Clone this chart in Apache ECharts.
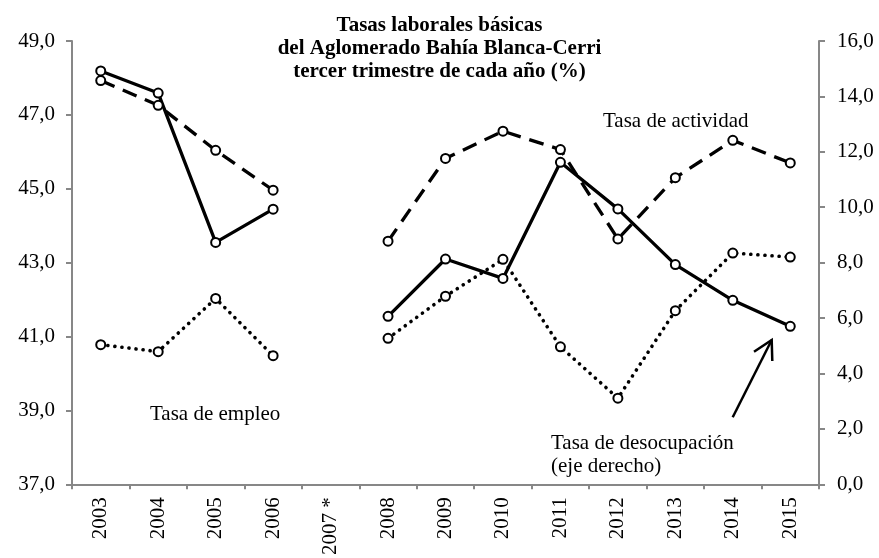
<!DOCTYPE html>
<html>
<head>
<meta charset="utf-8">
<script src="https://cdn.jsdelivr.net/npm/echarts@6/dist/echarts.min.js"></script>
<style>html,body{margin:0;padding:0;background:#fff}#c{width:879px;height:558px}</style>
</head>
<body>
<div id="c"></div>
<script>
var categories = ['2003','2004','2005','2006','2007 *','2008','2009','2010','2011','2012','2013','2014','2015'];
var actividad = [47.93, 47.26, 46.04, 44.96, null, 43.58, 45.82, 46.56, 46.06, 43.64, 45.30, 46.31, 45.70];
var empleo = [40.78, 40.59, 42.03, 40.48, null, 40.95, 42.09, 43.09, 40.72, 39.33, 41.70, 43.26, 43.15];
var desocupacion = [14.92, 14.12, 8.73, 9.93, null, 6.06, 8.13, 7.43, 11.62, 9.94, 7.93, 6.64, 5.70];
var titleLines = ['Tasas laborales básicas', 'del Aglomerado Bahía Blanca-Cerri', 'tercer trimestre de cada año (%)'];

var FONT = 'Liberation Serif';
var FS = 21;
var axisColor = '#878787';
function fmt(v){ return v.toFixed(1).replace('.', ','); }

var chart = echarts.init(document.getElementById('c'), null, {renderer:'canvas'});
function lineSeries(name, data, yIdx, type, width, cap){
  return {
    name: name, type: 'line', data: data, yAxisIndex: yIdx,
    connectNulls: false, showAllSymbol: true,
    symbol: 'circle', symbolSize: 9,
    itemStyle: {color: '#fff', borderColor: '#000', borderWidth: 2},
    lineStyle: {color: '#000', width: width, type: type, cap: cap},
    emphasis: {disabled: true}, animation: false, z: 3
  };
}
var option = {
  animation: false,
  backgroundColor: '#fff',
  title: {
    text: titleLines.join('\n'),
    left: 'center', top: 9,
    textStyle: {fontFamily: FONT, fontSize: FS, fontWeight: 'bold', color: '#000', lineHeight: 23}
  },
  grid: {left: 72, right: 60, top: 41, bottom: 67, containLabel: false},
  xAxis: {
    type: 'category', data: categories, boundaryGap: true,
    axisLine: {lineStyle: {color: axisColor, width: 2}},
    axisTick: {show: true, length: 5, lineStyle: {color: axisColor, width: 2}, alignWithLabel: false},
    axisLabel: {rotate: 90, margin: 13, interval: 0, fontFamily: FONT, fontSize: FS, color: '#000'},
    splitLine: {show: false}
  },
  yAxis: [{
    type: 'value', min: 37, max: 49, interval: 2, position: 'left',
    axisLine: {show: true, lineStyle: {color: axisColor, width: 2}},
    axisTick: {show: true, length: 6, lineStyle: {color: axisColor, width: 2}},
    axisLabel: {margin: 17, fontFamily: FONT, fontSize: FS, color: '#000', formatter: fmt},
    splitLine: {show: false}
  },{
    type: 'value', min: 0, max: 16, interval: 2, position: 'right',
    axisLine: {show: true, lineStyle: {color: axisColor, width: 2}},
    axisTick: {show: true, length: 6, lineStyle: {color: axisColor, width: 2}},
    axisLabel: {margin: 18, fontFamily: FONT, fontSize: FS, color: '#000', formatter: fmt},
    splitLine: {show: false}
  }],
  series: [
    lineSeries('Tasa de empleo', empleo, 0, [0.1, 7], 3.6, 'round'),
    lineSeries('Tasa de actividad', actividad, 0, [15, 9], 3.3, 'butt'),
    lineSeries('Tasa de desocupación', desocupacion, 1, 'solid', 3.3, 'butt')
  ],
  graphic: [
    {type:'text', x:603, y:121, style:{text:'Tasa de actividad', font: FS+'px "'+FONT+'"', fill:'#000', verticalAlign:'middle'}},
    {type:'text', x:150, y:414, style:{text:'Tasa de empleo', font: FS+'px "'+FONT+'"', fill:'#000', verticalAlign:'middle'}},
    {type:'text', x:551, y:443, style:{text:'Tasa de desocupación', font: FS+'px "'+FONT+'"', fill:'#000', verticalAlign:'middle'}},
    {type:'text', x:551, y:466, style:{text:'(eje derecho)', font: FS+'px "'+FONT+'"', fill:'#000', verticalAlign:'middle'}},
    {type:'polyline', shape:{points:[[732.7,417.3],[771.7,340]]}, style:{stroke:'#000', lineWidth:2.5}},
    {type:'polyline', shape:{points:[[754,351.7],[771.7,340],[772.3,361]]}, style:{stroke:'#000', lineWidth:2.5, fill:null}}
  ]
};
chart.setOption(option);
</script>
</body>
</html>
